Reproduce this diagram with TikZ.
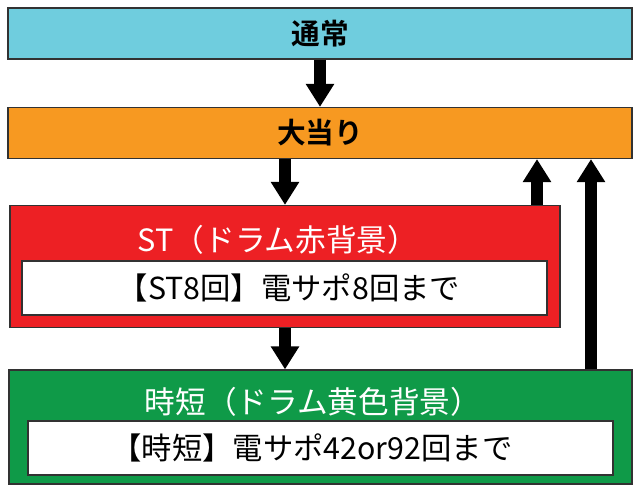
\documentclass[tikz,border=0pt]{standalone}
\usepackage{fontspec}
\setmainfont{Noto Sans CJK JP}
\newfontfamily\jpbold{Noto Sans CJK JP Bold}
\usetikzlibrary{arrows.meta}
\definecolor{cyanbox}{RGB}{111,205,222}
\definecolor{orangebox}{RGB}{247,153,33}
\definecolor{redbox}{RGB}{237,32,36}
\definecolor{greenbox}{RGB}{15,154,72}
\definecolor{edgegray}{RGB}{50,50,50}
\tikzset{
  box/.style={draw=edgegray, line width=0.9pt, inner sep=0pt, rectangle},
  innerbox/.style={box, fill=white},
  bigarrow/.style={line width=8.6pt, -{Triangle[length=17.25pt,width=20.25pt]}},
  toptext/.style={font=\jpbold\fontsize{21.5}{24}\selectfont, text=black},
  titletext/.style={font=\fontsize{23}{27}\selectfont, text=white},
  bodytext/.style={font=\fontsize{22.75}{27}\selectfont, text=black},
}
\begin{document}
\begin{tikzpicture}[x=0.75pt,y=-0.75pt]
\useasboundingbox (0,0) rectangle (640,491);
\node[box, fill=cyanbox, minimum width=468pt, minimum height=38.25pt] (tsujo) at (320,33.5) {};
\node[toptext] (tsujolbl) at (320,34) {通常};
\node[box, fill=orangebox, minimum width=468pt, minimum height=38.25pt] (oatari) at (320,133) {};
\node[toptext] (oatarilbl) at (320,133) {大当り};
\node[box, fill=redbox, minimum width=412.5pt, minimum height=91.5pt] (st) at (285,266.5) {};
\node[titletext] (sttitle) at (278,240) {ST（ドラム赤背景）};
\node[innerbox, minimum width=393.75pt, minimum height=40.5pt] (stinner) at (284.5,288) {};
\node[bodytext] (stbody) at (289,288) {【ST8回】電サポ8回まで};
\node[box, fill=greenbox, minimum width=467.25pt, minimum height=85.5pt] (jitan) at (320.5,427) {};
\node[titletext] (jitantitle) at (313,402) {時短（ドラム黄色背景）};
\node[innerbox, minimum width=438.75pt, minimum height=40.5pt] (jitaninner) at (320.5,448) {};
\node[bodytext] (jitanbody) at (312,448) {【時短】電サポ42or92回まで};
\coordinate (xa) at (320,0);
\coordinate (xb) at (285,0);
\coordinate (xc) at (537,0);
\coordinate (xd) at (591,0);
\draw[bigarrow] (tsujo.south -| xa) -- (oatari.north -| xa);
\draw[bigarrow] (oatari.south -| xb) -- (st.north -| xb);
\draw[bigarrow] (st.north -| xc) -- (oatari.south -| xc);
\draw[bigarrow] (jitan.north -| xd) -- (oatari.south -| xd);
\draw[bigarrow] (st.south -| xb) -- (jitan.north -| xb);
\end{tikzpicture}
\end{document}
